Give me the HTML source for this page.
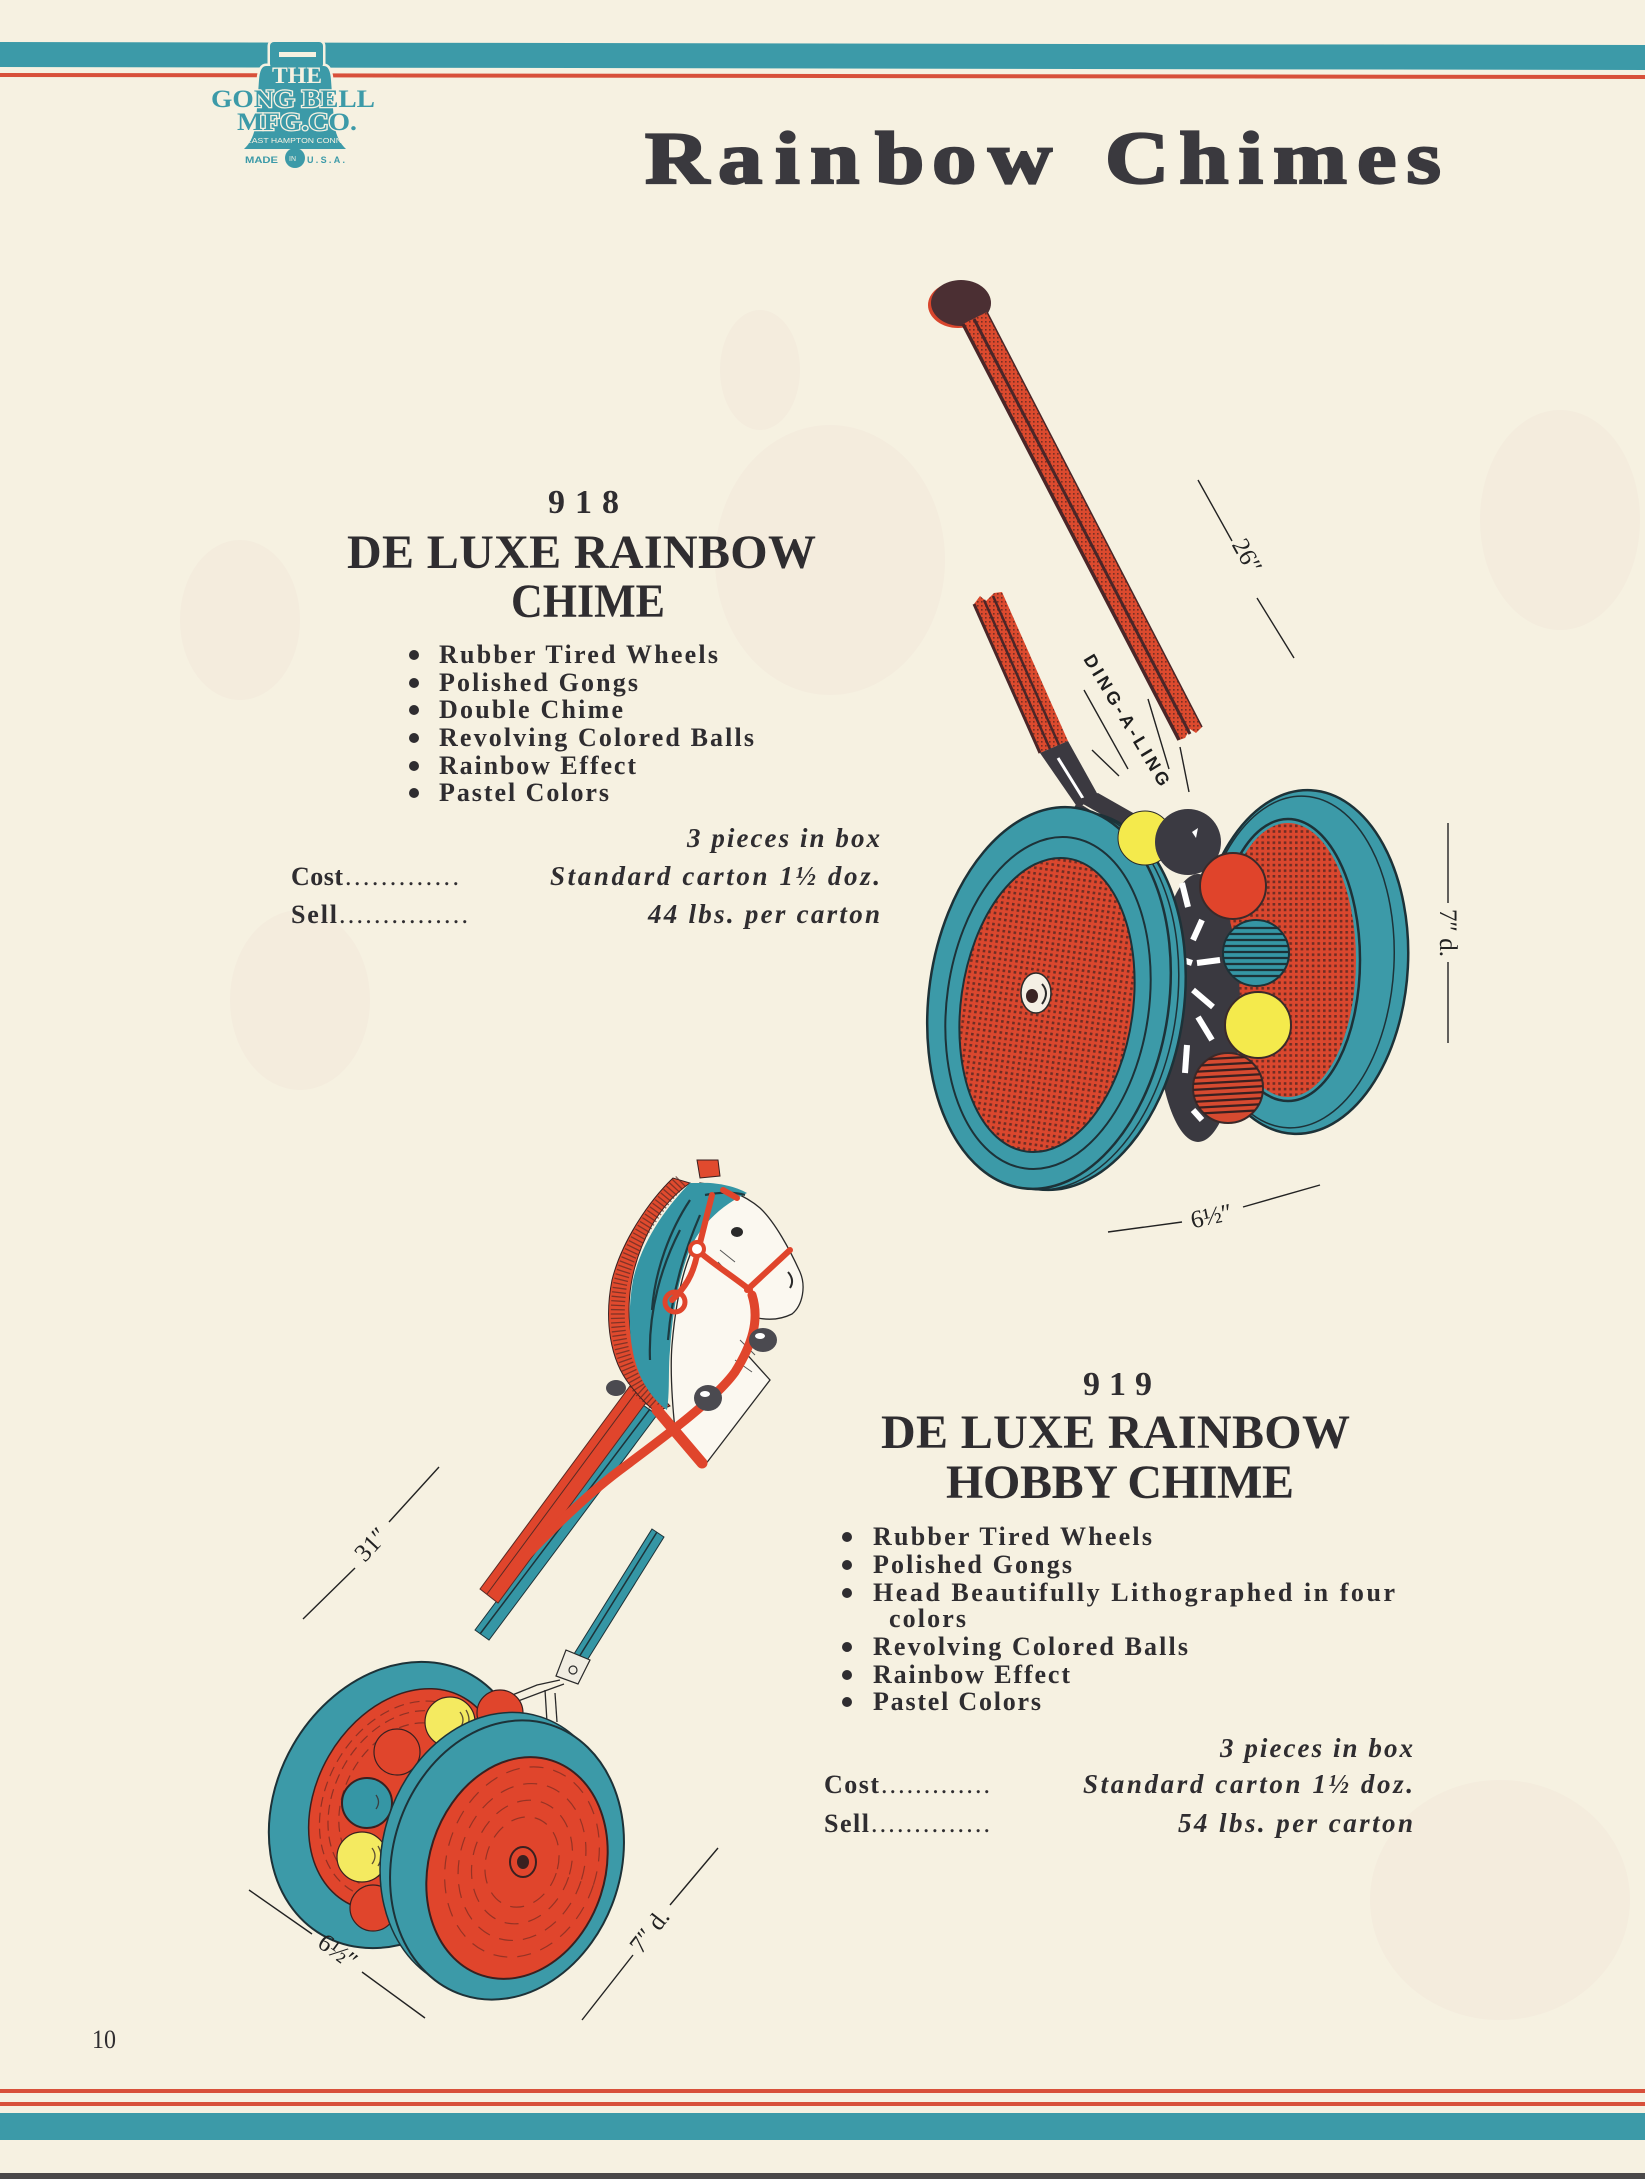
<!DOCTYPE html>
<html><head><meta charset="utf-8">
<style>
html,body{margin:0;padding:0;background:#f6f1e1;}
svg{display:block}
.s{font-family:"Liberation Serif",serif;}
.a{font-family:"Liberation Sans",sans-serif;}
</style></head><body>
<svg width="1645" height="2179" viewBox="0 0 1645 2179" xmlns="http://www.w3.org/2000/svg">
<defs>
 <pattern id="dots" width="5.6" height="5.6" patternUnits="userSpaceOnUse">
  <rect width="5.6" height="5.6" fill="#da472e"/>
  <rect x="1.4" y="1.4" width="2.6" height="2.6" fill="#4a2420" opacity="0.75"/>
 </pattern>
 <pattern id="sdots" width="4" height="4" patternUnits="userSpaceOnUse">
  <rect width="4" height="4" fill="#dc4a2e"/>
  <rect x="1" y="1" width="1.6" height="1.6" fill="#4a2420" opacity="0.7"/>
 </pattern>
 <clipPath id="cTeal"><circle cx="1256" cy="953" r="33"/></clipPath>
 <clipPath id="cRedS"><circle cx="1228" cy="1088" r="35"/></clipPath>
 <clipPath id="cFront2"><ellipse cx="517" cy="1868" rx="88" ry="113" transform="rotate(18 517 1868)"/></clipPath>
 <clipPath id="cBack2"><ellipse cx="405" cy="1800" rx="88" ry="118" transform="rotate(30 405 1800)"/></clipPath>
</defs>
<rect width="1645" height="2179" fill="#f6f1e1"/>

<!-- faint show-through ghosts -->
<g fill="#efdcd2" opacity="0.22">
 <ellipse cx="830" cy="560" rx="115" ry="135"/>
 <ellipse cx="760" cy="370" rx="40" ry="60"/>
 <ellipse cx="1560" cy="520" rx="80" ry="110"/>
 <ellipse cx="1500" cy="1900" rx="130" ry="120"/>
 <ellipse cx="300" cy="1000" rx="70" ry="90"/>
 <ellipse cx="240" cy="620" rx="60" ry="80"/>
</g>

<!-- top bands -->
<polygon points="0,42 1645,45 1645,70 0,67" fill="#3c9aa8"/>
<polygon points="0,73 1645,75 1645,79 0,77" fill="#d8503a"/>

<!-- logo bell -->
<g fill="#3c9aa8" stroke="#f6f1e1" stroke-width="5">
 <rect x="270" y="42" width="53" height="26" rx="4"/>
 <path d="M266 66 Q260 66 259 80 L256 122 Q254 140 244 149 L346 149 Q336 140 334 122 L331 80 Q330 66 324 66 Z"/>
</g>
<g fill="#3c9aa8">
 <rect x="270" y="42" width="53" height="26" rx="4"/>
 <path d="M266 66 Q260 66 259 80 L256 122 Q254 140 244 149 L346 149 Q336 140 334 122 L331 80 Q330 66 324 66 Z"/>
</g>
<rect x="279" y="52" width="37" height="5" fill="#f6f1e1"/>
<circle cx="295" cy="158" r="10" fill="#3c9aa8"/>
<text class="a" x="289" y="161" font-size="7" fill="#f6f1e1">IN</text>
<text class="s" x="272" y="83" font-size="23" font-weight="bold" fill="#f6f1e1" textLength="50" lengthAdjust="spacingAndGlyphs">THE</text>
<text class="s" x="211" y="107" font-size="25" font-weight="bold" fill="#3c9aa8" stroke="#f6f1e1" stroke-width="2.5" paint-order="stroke" textLength="164" lengthAdjust="spacingAndGlyphs">GONG BELL</text>
<text class="s" x="237" y="130" font-size="25" font-weight="bold" fill="#3c9aa8" stroke="#f6f1e1" stroke-width="2.5" paint-order="stroke" textLength="120" lengthAdjust="spacingAndGlyphs">MFG.CO.</text>
<text class="a" x="246" y="143" font-size="7" fill="#f6f1e1" textLength="96" lengthAdjust="spacingAndGlyphs">EAST HAMPTON CONN</text>
<text class="a" x="245" y="163" font-size="9" font-weight="bold" fill="#3c9aa8" textLength="33" lengthAdjust="spacingAndGlyphs">MADE</text>
<text class="a" x="307" y="163" font-size="9" font-weight="bold" fill="#3c9aa8" textLength="38" lengthAdjust="spacing">U.S.A.</text>

<!-- Title -->
<g fill="#3a393e" stroke="#3a393e" stroke-width="2.2" font-weight="bold" font-size="74">
 <text class="s" transform="translate(645,183) scale(1.2,1)" x="0 60.8 108.3 137.5 191.7 239.2 285.8" y="0">Rainbow</text>
 <text class="s" transform="translate(1105,183) scale(1.2,1)" x="0" y="0" letter-spacing="8.3">Chimes</text>
</g>

<!-- 918 block -->
<g class="s" fill="#2f2d30" font-weight="bold">
 <text class="s" x="548" y="513" font-size="34" textLength="71" lengthAdjust="spacing">918</text>
 <text class="s" x="347" y="568" font-size="48" textLength="469" lengthAdjust="spacing">DE LUXE RAINBOW</text>
 <text class="s" x="511" y="617" font-size="48" textLength="154" lengthAdjust="spacingAndGlyphs">CHIME</text>
 <g font-size="26">
  <text class="s" x="439" y="663" textLength="279" lengthAdjust="spacing">Rubber Tired Wheels</text>
  <text class="s" x="439" y="691" textLength="199" lengthAdjust="spacing">Polished Gongs</text>
  <text class="s" x="439" y="718" textLength="184" lengthAdjust="spacing">Double Chime</text>
  <text class="s" x="439" y="746" textLength="315" lengthAdjust="spacing">Revolving Colored Balls</text>
  <text class="s" x="439" y="774" textLength="197" lengthAdjust="spacing">Rainbow Effect</text>
  <text class="s" x="439" y="801" textLength="170" lengthAdjust="spacing">Pastel Colors</text>
 </g>
</g>
<g fill="#2f2d30">
 <circle cx="414" cy="655" r="5"/><circle cx="414" cy="683" r="5"/><circle cx="414" cy="710" r="5"/>
 <circle cx="414" cy="738" r="5"/><circle cx="414" cy="766" r="5"/><circle cx="414" cy="793" r="5"/>
</g>
<g fill="#2f2d30" font-weight="bold" font-style="italic" font-size="27">
 <text class="s" x="687" y="847" textLength="193" lengthAdjust="spacing">3 pieces in box</text>
 <text class="s" x="550" y="885" textLength="330" lengthAdjust="spacing">Standard carton 1½ doz.</text>
 <text class="s" x="648" y="923" textLength="232" lengthAdjust="spacing">44 lbs. per carton</text>
</g>
<g fill="#2f2d30" font-size="26">
 <text class="s" x="291" y="885" font-weight="bold" textLength="52" lengthAdjust="spacing">Cost</text>
 <text class="s" x="345" y="885" textLength="114" lengthAdjust="spacing">.............</text>
 <text class="s" x="291" y="923" font-weight="bold" textLength="46" lengthAdjust="spacing">Sell</text>
 <text class="s" x="339" y="923" textLength="129" lengthAdjust="spacing">...............</text>
</g>

<!-- 919 block -->
<g fill="#2f2d30" font-weight="bold">
 <text class="s" x="1083" y="1395" font-size="34" textLength="69" lengthAdjust="spacing">919</text>
 <text class="s" x="881" y="1448" font-size="48" textLength="469" lengthAdjust="spacing">DE LUXE RAINBOW</text>
 <text class="s" x="946" y="1498" font-size="48" textLength="348" lengthAdjust="spacing">HOBBY CHIME</text>
 <g font-size="26">
  <text class="s" x="873" y="1545" textLength="279" lengthAdjust="spacing">Rubber Tired Wheels</text>
  <text class="s" x="873" y="1573" textLength="199" lengthAdjust="spacing">Polished Gongs</text>
  <text class="s" x="873" y="1601" textLength="522" lengthAdjust="spacing">Head Beautifully Lithographed in four</text>
  <text class="s" x="889" y="1627" textLength="77" lengthAdjust="spacing">colors</text>
  <text class="s" x="873" y="1655" textLength="315" lengthAdjust="spacing">Revolving Colored Balls</text>
  <text class="s" x="873" y="1683" textLength="197" lengthAdjust="spacing">Rainbow Effect</text>
  <text class="s" x="873" y="1710" textLength="168" lengthAdjust="spacing">Pastel Colors</text>
 </g>
</g>
<g fill="#2f2d30">
 <circle cx="847" cy="1537" r="5"/><circle cx="847" cy="1565" r="5"/><circle cx="847" cy="1593" r="5"/>
 <circle cx="847" cy="1647" r="5"/><circle cx="847" cy="1675" r="5"/><circle cx="847" cy="1702" r="5"/>
</g>
<g fill="#2f2d30" font-weight="bold" font-style="italic" font-size="27">
 <text class="s" x="1220" y="1757" textLength="193" lengthAdjust="spacing">3 pieces in box</text>
 <text class="s" x="1083" y="1793" textLength="330" lengthAdjust="spacing">Standard carton 1½ doz.</text>
 <text class="s" x="1178" y="1832" textLength="235" lengthAdjust="spacing">54 lbs. per carton</text>
</g>
<g fill="#2f2d30" font-size="26">
 <text class="s" x="824" y="1793" font-weight="bold" textLength="55" lengthAdjust="spacing">Cost</text>
 <text class="s" x="881" y="1793" textLength="109" lengthAdjust="spacing">.............</text>
 <text class="s" x="824" y="1832" font-weight="bold" textLength="45" lengthAdjust="spacing">Sell</text>
 <text class="s" x="871" y="1832" textLength="119" lengthAdjust="spacing">..............</text>
</g>

<!-- page number -->
<text class="s" x="92" y="2048" font-size="26" fill="#2f2d30" textLength="24" lengthAdjust="spacingAndGlyphs">10</text>

<!-- bottom bands -->
<rect x="0" y="2089" width="1645" height="4" fill="#d8503a"/>
<rect x="0" y="2102" width="1645" height="4" fill="#d8503a"/>
<rect x="0" y="2113" width="1645" height="27" fill="#3c9aa8"/>
<rect x="0" y="2173" width="1645" height="6" fill="#4a4848"/>

<!-- ============ 918 CHIME ILLUSTRATION ============ -->
<ellipse cx="958" cy="305" rx="30" ry="23" fill="#d8462d"/>
<ellipse cx="961" cy="303" rx="30" ry="23" fill="#4b2f33"/>
<polygon points="963,324 987,312 1202,727 1196,733 1190,729 1185,738 1179,740" fill="url(#sdots)"/>
<line x1="963" y1="324" x2="1179" y2="740" stroke="#4a2628" stroke-width="3.5"/>
<line x1="974" y1="319" x2="1190" y2="734" stroke="#4a2628" stroke-width="3"/>
<line x1="987" y1="312" x2="1202" y2="727" stroke="#4a2628" stroke-width="1.5"/>
<polygon points="974,604 980,596 986,601 994,593 1002,592 1068,741 1040,753" fill="url(#sdots)"/>
<line x1="974" y1="604" x2="1040" y2="753" stroke="#4a2628" stroke-width="3"/>
<line x1="984" y1="600" x2="1050" y2="749" stroke="#4a2628" stroke-width="2.5"/>
<line x1="993" y1="596" x2="1059" y2="745" stroke="#4a2628" stroke-width="2.5"/>
<polygon points="1040,753 1068,741 1098,795 1078,808" fill="#3b3940"/>
<line x1="1058" y1="758" x2="1084" y2="800" stroke="#fff" stroke-width="3"/>
<polygon points="1076,800 1098,793 1142,818 1136,834" fill="#3b3940"/>
<line x1="1075" y1="806" x2="1122" y2="835" stroke="#3b3940" stroke-width="9"/>
<text class="a" transform="translate(1083,659) rotate(59)" font-weight="bold" font-size="18" fill="#1e1e1e" textLength="150" lengthAdjust="spacing">DING-A-LING</text>
<g stroke="#222" stroke-width="1.4">
 <line x1="1084" y1="690" x2="1128" y2="769"/>
 <line x1="1092" y1="750" x2="1119" y2="776"/>
 <line x1="1148" y1="699" x2="1169" y2="769"/>
 <line x1="1180" y1="747" x2="1189" y2="792"/>
</g>
<!-- rear wheel -->
<ellipse cx="1302" cy="962" rx="106" ry="172" transform="rotate(3 1302 962)" fill="#3c9aa8" stroke="#1d3238" stroke-width="2.5"/>
<ellipse cx="1296" cy="962" rx="98" ry="166" transform="rotate(3 1296 962)" fill="none" stroke="#1d3238" stroke-width="1.5"/>
<ellipse cx="1288" cy="960" rx="72" ry="141" fill="none" stroke="#1d3238" stroke-width="2.5"/>
<ellipse cx="1288" cy="960" rx="68" ry="137" fill="url(#dots)"/>
<ellipse cx="1198" cy="1008" rx="42" ry="134" fill="#3a3940"/>
<g stroke="#fff" stroke-width="6">
 <line x1="1182" y1="883" x2="1188" y2="907"/>
 <line x1="1202" y1="920" x2="1193" y2="940"/>
 <line x1="1197" y1="963" x2="1220" y2="960"/>
 <line x1="1193" y1="990" x2="1213" y2="1007"/>
 <line x1="1198" y1="1017" x2="1212" y2="1040"/>
 <line x1="1187" y1="1045" x2="1185" y2="1073"/>
 <line x1="1193" y1="1110" x2="1202" y2="1120"/>
 <line x1="1183" y1="960" x2="1192" y2="963"/>
</g>
<!-- front wheel -->
<ellipse cx="1064" cy="1001" rx="120" ry="190" transform="rotate(8 1064 1001)" fill="#3c9aa8" stroke="#1d3238" stroke-width="2.5"/>
<ellipse cx="1057" cy="1000" rx="120" ry="191" transform="rotate(8 1057 1000)" fill="none" stroke="#1d3238" stroke-width="1.5"/>
<ellipse cx="1049" cy="998" rx="120" ry="192" transform="rotate(8 1049 998)" fill="#3c9aa8" stroke="#1d3238" stroke-width="2.5"/>
<ellipse cx="1048" cy="1003" rx="101" ry="167" transform="rotate(8 1048 1003)" fill="none" stroke="#1d3238" stroke-width="2"/>
<ellipse cx="1047" cy="1005" rx="86" ry="148" transform="rotate(8 1047 1005)" fill="url(#dots)" stroke="#1d3238" stroke-width="2"/>
<ellipse cx="1036" cy="993" rx="15" ry="20" fill="#f4efe4" stroke="#2a2a2a" stroke-width="1.5"/>
<ellipse cx="1032" cy="996" rx="6" ry="7" fill="#3a2424"/>
<path d="M1042 984 Q1050 993 1042 1004" fill="none" stroke="#2a2a2a" stroke-width="2"/>
<!-- balls -->
<circle cx="1145" cy="838" r="27" fill="#f4ea4c" stroke="#2a2a2a" stroke-width="1"/>
<circle cx="1188" cy="842" r="33" fill="#3b3a42"/>
<polygon points="1192,832 1198,828 1196,838" fill="#fff"/>
<circle cx="1233" cy="886" r="33" fill="#e0442b" stroke="#3a2a2a" stroke-width="2"/>
<circle cx="1256" cy="953" r="33" fill="#3596a5" stroke="#1d3238" stroke-width="2"/>
<g clip-path="url(#cTeal)" stroke="#1d3238" stroke-width="2.2">
 <line x1="1220" y1="928" x2="1292" y2="928"/><line x1="1220" y1="934" x2="1292" y2="934"/>
 <line x1="1220" y1="940" x2="1292" y2="940"/><line x1="1220" y1="946" x2="1292" y2="946"/>
 <line x1="1220" y1="952" x2="1292" y2="952"/><line x1="1220" y1="958" x2="1292" y2="958"/>
 <line x1="1220" y1="964" x2="1292" y2="964"/><line x1="1220" y1="970" x2="1292" y2="970"/>
 <line x1="1220" y1="976" x2="1292" y2="976"/>
</g>
<circle cx="1258" cy="1025" r="33" fill="#f4ea4c" stroke="#3a2a2a" stroke-width="2"/>
<circle cx="1228" cy="1088" r="35" fill="#d64a30" stroke="#3a2a2a" stroke-width="2"/>
<g clip-path="url(#cRedS)" stroke="#3a2020" stroke-width="2.2">
 <line x1="1190" y1="1060" x2="1266" y2="1056"/><line x1="1190" y1="1066" x2="1266" y2="1062"/>
 <line x1="1190" y1="1072" x2="1266" y2="1068"/><line x1="1190" y1="1078" x2="1266" y2="1074"/>
 <line x1="1190" y1="1084" x2="1266" y2="1080"/><line x1="1190" y1="1090" x2="1266" y2="1086"/>
 <line x1="1190" y1="1096" x2="1266" y2="1092"/><line x1="1190" y1="1102" x2="1266" y2="1098"/>
 <line x1="1190" y1="1108" x2="1266" y2="1104"/><line x1="1190" y1="1114" x2="1266" y2="1110"/>
</g>
<g stroke="#222" stroke-width="1.4">
 <line x1="1198" y1="480" x2="1232" y2="541"/>
 <line x1="1257" y1="598" x2="1294" y2="658"/>
 <line x1="1448" y1="823" x2="1448" y2="903"/>
 <line x1="1448" y1="962" x2="1448" y2="1043"/>
 <line x1="1108" y1="1232" x2="1182" y2="1222"/>
 <line x1="1243" y1="1207" x2="1320" y2="1185"/>
</g>
<g fill="#222" font-size="25">
 <text class="s" transform="translate(1240,560) rotate(61)" text-anchor="middle">26″</text>
 <text class="s" transform="translate(1440,933) rotate(90)" text-anchor="middle">7″ d.</text>
 <text class="s" transform="translate(1213,1224) rotate(-12)" text-anchor="middle">6½″</text>
</g>

<!-- ============ 919 HOBBY CHIME ILLUSTRATION ============ -->
<polygon points="475,1630 489,1640 657,1415 643,1405" fill="#3596a5" stroke="#1d3238" stroke-width="1"/>
<line x1="480" y1="1634" x2="650" y2="1409" stroke="#1d3238" stroke-width="1.5"/>
<polygon points="480,1589 498,1603 648,1400 630,1386" fill="#e0452c" stroke="#5a2a24" stroke-width="1"/>
<line x1="487" y1="1594" x2="637" y2="1391" stroke="#5a2a24" stroke-width="1"/>
<polygon points="652,1529 664,1537 586,1662 574,1654" fill="#3596a5" stroke="#1d3238" stroke-width="1"/>
<line x1="657" y1="1532" x2="579" y2="1657" stroke="#1d3238" stroke-width="1.5"/>
<polygon points="566,1650 590,1660 578,1684 556,1676" fill="#f1ede2" stroke="#2a2a2a" stroke-width="1.2"/>
<circle cx="573" cy="1670" r="4" fill="none" stroke="#2a2a2a" stroke-width="1.2"/>
<g stroke="#2a2a2a" stroke-width="1.3" fill="none">
 <path d="M560 1680 L537 1685 L500 1700"/>
 <path d="M564 1684 L542 1692 L505 1706"/>
 <path d="M545 1690 L547 1722"/>
 <path d="M555 1693 L557 1722"/>
</g>
<!-- horse head -->
<path d="M700 1183 C720 1185 745 1195 760 1208 C775 1222 790 1250 800 1272 C806 1286 803 1305 792 1314 C780 1320 768 1320 758 1318 C752 1326 750 1336 743 1350 L770 1380 L705 1465 L675 1430 C672 1400 670 1370 672 1345 C675 1310 680 1280 690 1255 C694 1230 700 1205 700 1183 Z" fill="#fbf8f0" stroke="#2a2a2a" stroke-width="1.3"/>
<g stroke="#555" stroke-width="1" fill="none">
 <path d="M720 1250 L735 1262 M718 1262 L730 1275 M740 1340 L755 1355 M735 1360 L752 1372"/>
</g>
<path d="M697 1160 L718 1160 L720 1176 L700 1178 Z" fill="#e04a2e" stroke="#3a2020" stroke-width="1"/>
<path d="M673 1178 C650 1200 622 1240 612 1280 C604 1320 610 1360 630 1385 C640 1398 648 1406 656 1412 L670 1406 C655 1390 640 1368 632 1340 C625 1305 630 1265 652 1225 C665 1203 680 1190 690 1183 Z" fill="#e04a2e" stroke="#3a2020" stroke-width="1"/>
<path d="M681 1181 C660 1201 628 1245 620 1285 C614 1325 620 1360 640 1390 L662 1410" fill="none" stroke="#5a2a24" stroke-width="14" stroke-dasharray="1.3 3" opacity="0.7"/>
<path d="M690 1183 C668 1205 642 1240 633 1280 C626 1320 630 1360 645 1385 C653 1398 660 1405 667 1410 C670 1390 668 1370 670 1350 C672 1320 676 1290 686 1260 C694 1235 712 1210 747 1193 C735 1186 715 1182 700 1183 Z" fill="#3596a5"/>
<g stroke="#1d3a40" stroke-width="2.2" fill="none">
 <path d="M690 1200 C670 1230 655 1270 652 1310"/>
 <path d="M700 1215 C685 1250 672 1290 668 1340"/>
 <path d="M680 1230 C662 1265 648 1310 650 1360"/>
 <path d="M705 1195 C720 1192 735 1192 745 1195"/>
</g>
<ellipse cx="737" cy="1232" rx="6" ry="5" fill="#2a2a2a"/>
<path d="M788 1272 Q795 1280 790 1288" fill="none" stroke="#2a2a2a" stroke-width="2"/>
<g stroke="#e0452c" stroke-width="6" fill="none" stroke-linecap="round">
 <path d="M723 1190 L737 1198"/>
 <path d="M712 1195 L700 1243"/>
 <path d="M702 1254 C715 1265 735 1278 750 1290"/>
 <path d="M747 1290 L790 1250"/>
 <path d="M697 1255 C693 1275 685 1288 672 1300"/>
 <path d="M657 1410 L702 1463" stroke-width="11"/>
 <path d="M752 1295 C760 1320 752 1345 735 1372 C715 1400 660 1440 620 1470 C580 1500 530 1550 500 1585" stroke-width="9"/>
</g>
<circle cx="697" cy="1249" r="7" fill="#fff" stroke="#e0452c" stroke-width="4"/>
<circle cx="675" cy="1302" r="10" fill="none" stroke="#e0452c" stroke-width="5"/>
<g fill="#4b4a50">
 <ellipse cx="763" cy="1340" rx="14" ry="12"/>
 <ellipse cx="708" cy="1398" rx="14" ry="13"/>
 <ellipse cx="616" cy="1388" rx="10" ry="8"/>
</g>
<g fill="#fff"><ellipse cx="760" cy="1336" rx="5" ry="3"/><ellipse cx="705" cy="1394" rx="5" ry="3"/></g>

<!-- back wheel -->
<ellipse cx="397" cy="1805" rx="120" ry="150" transform="rotate(30 397 1805)" fill="#3c9aa8" stroke="#1d3238" stroke-width="2"/>
<ellipse cx="405" cy="1800" rx="88" ry="118" transform="rotate(30 405 1800)" fill="#e0452c" stroke="#3a2020" stroke-width="1.5"/>
<g clip-path="url(#cBack2)" fill="none" stroke="#5a2520" stroke-width="1.2" opacity="0.6" stroke-dasharray="10 6">
 <ellipse cx="405" cy="1800" rx="70" ry="95" transform="rotate(30 405 1800)"/>
 <ellipse cx="405" cy="1800" rx="60" ry="82" transform="rotate(30 405 1800)"/>
 <ellipse cx="405" cy="1800" rx="78" ry="105" transform="rotate(30 405 1800)"/>
</g>
<g stroke="#2a2a2a" stroke-width="1" fill="#f1ede2">
 <path d="M420 1790 L470 1760 L480 1775 L430 1812 Z"/>
 <path d="M410 1830 L455 1800 L462 1815 L418 1848 Z"/>
</g>
<circle cx="500" cy="1713" r="23" fill="#e0452c" stroke="#3a2020" stroke-width="1.2"/>
<circle cx="397" cy="1752" r="23" fill="#e0452c" stroke="#3a2020" stroke-width="1.2"/>
<circle cx="450" cy="1722" r="25" fill="#f4ea60" stroke="#3a2020" stroke-width="1.2"/>
<circle cx="367" cy="1803" r="25" fill="#3596a5" stroke="#3a2020" stroke-width="2"/>
<circle cx="373" cy="1908" r="23" fill="#e0452c" stroke="#3a2020" stroke-width="1.2"/>
<circle cx="362" cy="1857" r="25" fill="#f4ea60" stroke="#3a2020" stroke-width="1.2"/>
<g stroke="#3a2a2a" stroke-width="1.3" fill="none" opacity="0.8">
 <path d="M460 1712 q6 8 0 16 M466 1710 q6 10 0 20"/>
 <path d="M372 1848 q6 8 0 16 M378 1846 q6 10 0 20"/>
 <path d="M376 1795 q5 7 0 14"/>
</g>
<!-- front wheel -->
<ellipse cx="497" cy="1852" rx="114" ry="142" transform="rotate(18 497 1852)" fill="#3c9aa8" stroke="#1d3238" stroke-width="1.5"/>
<ellipse cx="507" cy="1860" rx="114" ry="142" transform="rotate(18 507 1860)" fill="#3c9aa8" stroke="#1d3238" stroke-width="2"/>
<ellipse cx="517" cy="1868" rx="88" ry="113" transform="rotate(18 517 1868)" fill="#e0452c" stroke="#3a2020" stroke-width="2"/>
<g clip-path="url(#cFront2)" fill="none" stroke="#5a2520" stroke-width="1.2" opacity="0.55" stroke-dasharray="14 10">
 <ellipse cx="522" cy="1862" rx="75" ry="97" transform="rotate(18 522 1862)"/>
 <ellipse cx="522" cy="1862" rx="62" ry="80" transform="rotate(18 522 1862)"/>
 <ellipse cx="522" cy="1862" rx="49" ry="63" transform="rotate(18 522 1862)"/>
 <ellipse cx="522" cy="1862" rx="36" ry="46" transform="rotate(18 522 1862)"/>
</g>
<ellipse cx="523" cy="1862" rx="13" ry="15" fill="none" stroke="#3a2020" stroke-width="2"/>
<ellipse cx="523" cy="1862" rx="6" ry="7" fill="#3a2020"/>
<g stroke="#222" stroke-width="1.4">
 <line x1="439" y1="1467" x2="389" y2="1522"/>
 <line x1="355" y1="1568" x2="303" y2="1619"/>
 <line x1="249" y1="1890" x2="312" y2="1934"/>
 <line x1="362" y1="1972" x2="425" y2="2018"/>
 <line x1="718" y1="1848" x2="670" y2="1905"/>
 <line x1="633" y1="1955" x2="582" y2="2020"/>
</g>
<g fill="#222" font-size="25">
 <text class="s" transform="translate(377,1550) rotate(-47)" text-anchor="middle">31″</text>
 <text class="s" transform="translate(333,1958) rotate(36)" text-anchor="middle">6½″</text>
 <text class="s" transform="translate(656,1936) rotate(-52)" text-anchor="middle">7″ d.</text>
</g>
</svg>
</body></html>
